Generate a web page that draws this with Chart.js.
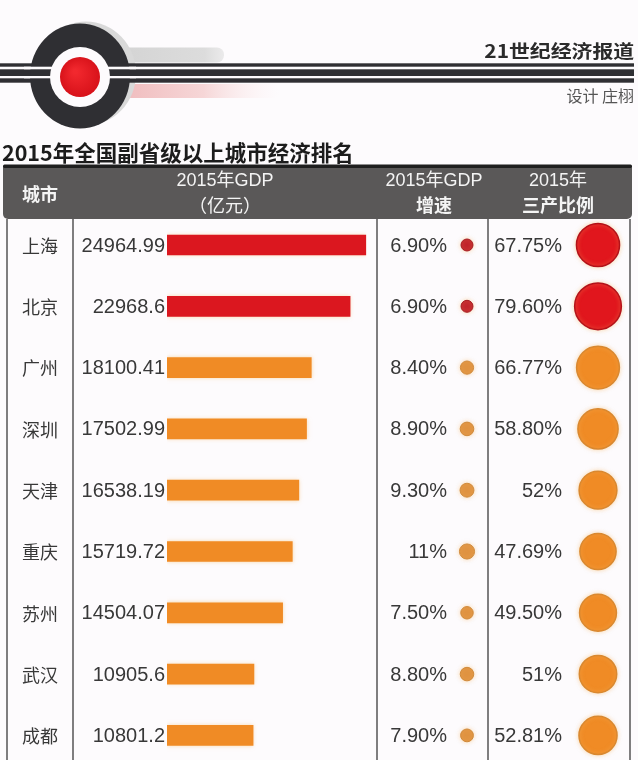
<!DOCTYPE html>
<html><head><meta charset="utf-8">
<script src="https://cdn.jsdelivr.net/npm/chart.js@4.4.1/dist/chart.umd.min.js"></script>
<style>
html,body{margin:0;padding:0;background:#fdfbfd;}
body{width:638px;height:760px;overflow:hidden;position:relative;font-family:"Noto Sans CJK SC","Noto Sans",sans-serif;}
canvas.layer{position:absolute;left:0;top:0;}
.t{position:absolute;white-space:nowrap;line-height:1;z-index:5;}
.h{color:#f4f4f4;font-size:18px;font-family:"Liberation Sans","Noto Sans CJK SC",sans-serif;text-align:center;}
</style></head><body>
<canvas id="c1" class="layer" width="638" height="770"></canvas>
<canvas id="c2" class="layer" width="638" height="770"></canvas>
<canvas id="c3" class="layer" width="638" height="770"></canvas>

<div class="t" style="right:4px;top:40.5px;font-weight:bold;font-size:18px;color:#2b2b2b;transform:scaleX(1.16);transform-origin:right center;">21世纪经济报道</div>
<div class="t" style="right:4px;top:86.5px;font-size:16px;color:#555;">设计 庄栩</div>
<div class="t" style="left:2px;top:140.5px;font-weight:bold;font-size:21.5px;color:#1c1c1c;">2015年全国副省级以上城市经济排名</div>

<div class="t h" style="left:7px;width:66px;top:184px;font-family:'Noto Sans CJK SC';font-weight:bold;">城市</div>
<div class="t h" style="left:125px;width:200px;top:171px;">2015年GDP</div>
<div class="t h" style="left:125px;width:200px;top:195px;font-family:'Noto Sans CJK SC';">（亿元）</div>
<div class="t h" style="left:334px;width:200px;top:171px;">2015年GDP</div>
<div class="t h" style="left:334px;width:200px;top:195px;font-family:'Noto Sans CJK SC';font-weight:bold;">增速</div>
<div class="t h" style="left:458px;width:200px;top:171px;">2015年</div>
<div class="t h" style="left:458px;width:200px;top:195px;font-family:'Noto Sans CJK SC';font-weight:bold;">三产比例</div>

<script>
// ---- data ----
const cities = ['上海','北京','广州','深圳','天津','重庆','苏州','武汉','成都'];
const gdp = [24964.99, 22968.6, 18100.41, 17502.99, 16538.19, 15719.72, 14504.07, 10905.6, 10801.2];
const growth = [6.9, 6.9, 8.4, 8.9, 9.3, 11, 7.5, 8.8, 7.9];
const growthLabels = ['6.90%','6.90%','8.40%','8.90%','9.30%','11%','7.50%','8.80%','7.90%'];
const tertiary = [67.75, 79.60, 66.77, 58.80, 52, 47.69, 49.50, 51, 52.81];
const tertiaryLabels = ['67.75%','79.60%','66.77%','58.80%','52%','47.69%','49.50%','51%','52.81%'];
const gdpAxisMax = 25000;

// ---- styles ----
const BG = '#fdfbfd';
const isTop = i => i < 2;
const RED = '#db171f', ORANGE = '#f08b25';
const ROW_PAD = {top:214.35, bottom:3.95};

function rr(ctx,x,y,w,h,r){ctx.beginPath();ctx.moveTo(x+r,y);ctx.lineTo(x+w-r,y);ctx.arcTo(x+w,y,x+w,y+r,r);ctx.lineTo(x+w,y+h-r);ctx.arcTo(x+w,y+h,x+w-r,y+h,r);ctx.lineTo(x+r,y+h);ctx.arcTo(x,y+h,x,y+h-r,r);ctx.lineTo(x,y+r);ctx.arcTo(x,y,x+r,y,r);ctx.closePath();}

function drawLogo(ctx){
  const cx=80, cy=76.5;
  let gg=ctx.createLinearGradient(120,0,226,0);
  gg.addColorStop(0,'#d4d4d4'); gg.addColorStop(0.8,'#dcdcdc'); gg.addColorStop(1,'rgba(225,225,225,0.6)');
  ctx.fillStyle=gg; rr(ctx,100,47.5,124,15,7); ctx.fill();
  let g=ctx.createLinearGradient(110,0,280,0);
  g.addColorStop(0,'#efb8ba'); g.addColorStop(0.55,'#f6d6d7'); g.addColorStop(1,'rgba(252,240,241,0)');
  ctx.fillStyle=g; rr(ctx,100,84,180,14,7); ctx.fill();
  ctx.fillStyle='#d9d9d9'; ctx.beginPath(); ctx.ellipse(cx+6,cy-3,50,52,0,0,Math.PI*2); ctx.fill();
  ctx.fillStyle='#2f2f33';
  ctx.fillRect(0,63.3,634,3.4); ctx.fillRect(0,69.3,634,6.7); ctx.fillRect(0,78.3,634,4.4);
  ctx.beginPath(); ctx.ellipse(cx,cy-0.5,50,52.5,0,0,Math.PI*2); ctx.fill();
  ctx.fillStyle=BG;
  ctx.fillRect(24,66.7,112,2.6); ctx.fillRect(24,76,112,2.3);
  ctx.beginPath(); ctx.arc(cx,cy+0.5,30,0,Math.PI*2); ctx.fill();
  let rg=ctx.createRadialGradient(cx-5,cy-5,2,cx,cy,20);
  rg.addColorStop(0,'#f2282e'); rg.addColorStop(1,'#d8121a');
  ctx.fillStyle=rg; ctx.beginPath(); ctx.arc(cx,cy+0.5,20,0,Math.PI*2); ctx.fill();
}

const bgPlugin = {
  id:'bg',
  beforeDraw(chart){
    const ctx=chart.ctx; ctx.save();
    ctx.fillStyle=BG; ctx.fillRect(0,0,chart.width,chart.height);
    drawLogo(ctx);
    ctx.fillStyle='#1f1f1f'; rr(ctx,3,164.5,629,4,1.5); ctx.fill();
    ctx.fillStyle='#5a5858';
    ctx.beginPath(); ctx.moveTo(3,168); ctx.lineTo(632,168); ctx.lineTo(632,214); ctx.arcTo(632,219,627,219,5);
    ctx.lineTo(8,219); ctx.arcTo(3,219,3,214,5); ctx.closePath(); ctx.fill();
    ctx.strokeStyle='#555'; ctx.lineWidth=1.5;
    [7,73,377,488,630].forEach(x=>{ctx.beginPath();ctx.moveTo(x,219);ctx.lineTo(x,770);ctx.stroke();});
    ctx.restore();
  }
};

const gdpLabels = {
  id:'gdpLabels',
  beforeDatasetsDraw(chart){ const ctx=chart.ctx; ctx.save(); ctx.shadowColor='rgba(248,190,110,0.55)'; ctx.shadowBlur=4; },
  afterDatasetsDraw(chart){
    const ctx=chart.ctx; ctx.restore(); ctx.save();
    const ys=chart.scales.y;
    ctx.textBaseline='middle'; ctx.fillStyle='#383838';
    cities.forEach((c,i)=>{
      const py=ys.getPixelForValue(i);
      ctx.font='18px "Noto Sans CJK SC"'; ctx.textAlign='center';
      ctx.fillText(c,40,py+1);
      ctx.font='20px "Liberation Sans"'; ctx.textAlign='right';
      ctx.fillText(String(gdp[i]),165,py+1);
    });
    ctx.restore();
  }
};

new Chart(document.getElementById('c1'),{
  type:'bar',
  data:{labels:cities,datasets:[{data:gdp,backgroundColor:c=>isTop(c.dataIndex)?RED:ORANGE,barThickness:20,borderWidth:0}]},
  options:{indexAxis:'y',responsive:false,animation:false,events:[],
    layout:{autoPadding:false,padding:{left:167,right:638-366.3,top:ROW_PAD.top,bottom:ROW_PAD.bottom}},
    scales:{x:{type:'linear',min:0,max:gdpAxisMax,display:false},y:{type:'category',offset:true,display:false}},
    plugins:{legend:{display:false},tooltip:{enabled:false}}},
  plugins:[bgPlugin,gdpLabels]
});

function dotChart(id,colName,values,labels,k,fill,border,bw,centerX,textX){
  const lbl={
    id:'lbl'+id,
    beforeDatasetsDraw(chart){const ctx=chart.ctx;ctx.save();ctx.shadowColor='rgba(248,190,110,0.5)';ctx.shadowBlur=4;},
    afterDatasetsDraw(chart){
      const ctx=chart.ctx; ctx.restore(); ctx.save();
      const ys=chart.scales.y;
      ctx.font='20px "Liberation Sans"'; ctx.fillStyle='#383838'; ctx.textAlign='right'; ctx.textBaseline='middle';
      labels.forEach((t,i)=>ctx.fillText(t,textX,ys.getPixelForValue(i)+1));
      ctx.restore();
    }
  };
  new Chart(document.getElementById(id),{
    type:'bubble',
    data:{datasets:[{
      data:cities.map(c=>({x:colName,y:c})),
      radius:c=>k*Math.sqrt(values[c.dataIndex]),
      backgroundColor:c=>fill(c.dataIndex),
      borderColor:c=>border(c.dataIndex),
      borderWidth:bw,clip:false
    }]},
    options:{responsive:false,animation:false,events:[],
      layout:{autoPadding:false,padding:{left:centerX-10,right:638-(centerX+10),top:ROW_PAD.top,bottom:ROW_PAD.bottom}},
      scales:{x:{type:'category',labels:[colName],offset:true,display:false},
              y:{type:'category',labels:cities,offset:true,display:false}},
      plugins:{legend:{display:false},tooltip:{enabled:false}}},
    plugins:[lbl]
  });
}

dotChart('c2','GDP增速',growth,growthLabels,2.28,
  i=>isTop(i)?'#c1232b':'#e09341', i=>isTop(i)?'#a51c22':'#d08a3c',1,467,447);
dotChart('c3','三产比例',tertiary,tertiaryLabels,2.62,
  i=>isTop(i)?'#e1161d':'#f08b25', i=>isTop(i)?'#b3121a':'#d98830',1.5,598,562);
</script>
</body></html>
